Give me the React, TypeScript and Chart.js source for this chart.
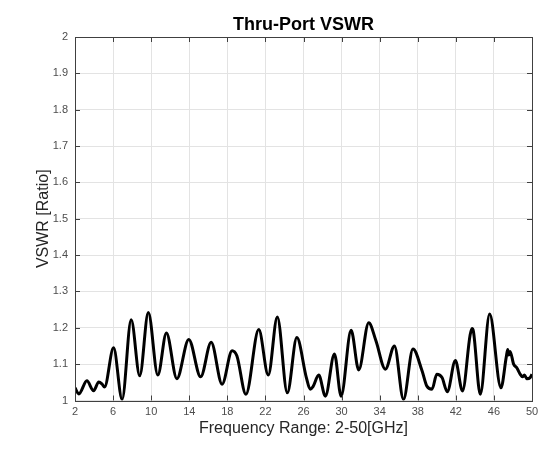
import React, { useEffect, useRef } from "react";
import { Chart, registerables } from "chart.js";

Chart.register(...registerables);

const freqGHz = [
  2.0, 2.4, 3.25, 3.95, 4.5, 4.85, 5.1, 6.05, 6.95, 7.9, 8.8, 9.7, 10.7, 11.6, 12.7, 13.95,
  15.2, 16.3, 17.45, 18.5, 19.0, 19.95, 21.3, 22.3, 23.25, 24.3, 25.3, 26.3, 26.7, 27.0, 27.6,
  28.3, 29.25, 29.95, 31.0, 31.8, 32.85, 33.6, 34.6, 35.55, 36.5, 37.5, 38.45, 38.95, 39.5,
  40.0, 40.55, 41.1, 41.95, 42.7, 43.5, 43.7, 43.85, 44.57, 45.55, 46.74, 47.3, 47.45, 47.55,
  47.7, 48.07, 48.4, 48.77, 49.0, 49.2, 49.47, 49.8, 50.0,
];
const vswr = [
  1.035, 1.018, 1.054, 1.027, 1.051, 1.045, 1.037, 1.145, 1.003, 1.222, 1.068, 1.242, 1.07, 1.186,
  1.06, 1.168, 1.065, 1.16, 1.045, 1.137, 1.123, 1.017, 1.195, 1.07, 1.23, 1.021, 1.173, 1.063,
  1.031, 1.038, 1.07, 1.012, 1.128, 1.012, 1.193, 1.084, 1.214, 1.165, 1.086, 1.15, 1.003, 1.142,
  1.082, 1.04, 1.031, 1.072, 1.063, 1.024, 1.11, 1.026, 1.18, 1.198, 1.19, 1.017, 1.238, 1.035,
  1.12, 1.14, 1.125, 1.135, 1.1, 1.09, 1.072, 1.065, 1.07, 1.06, 1.063, 1.072,
];
const titleText = "Thru-Port VSWR";
const xLabel = "Frequency Range: 2-50[GHz]";
const yLabel = "VSWR [Ratio]";

const FONT = "'Liberation Sans', Arial, Helvetica, sans-serif";

const boxPlugin = {
  id: "matlabBox",
  afterDatasetsDraw(chart: any) {
    const { ctx, chartArea } = chart;
    const { left, right, top, bottom } = chartArea;
    ctx.save();
    ctx.strokeStyle = "#404040";
    ctx.lineWidth = 1;
    const xs = chart.scales.x;
    const ys = chart.scales.y;
    const tl = 5;
    ctx.beginPath();
    xs.ticks.forEach((t: any) => {
      const px = Math.round(xs.getPixelForValue(t.value)) + 0.5;
      ctx.moveTo(px, bottom);
      ctx.lineTo(px, bottom - tl);
      ctx.moveTo(px, top);
      ctx.lineTo(px, top + tl);
    });
    ys.ticks.forEach((t: any) => {
      const py = Math.round(ys.getPixelForValue(t.value)) + 0.5;
      ctx.moveTo(left, py);
      ctx.lineTo(left + tl, py);
      ctx.moveTo(right, py);
      ctx.lineTo(right - tl, py);
    });
    ctx.stroke();
    ctx.strokeRect(Math.round(left) + 0.5, Math.round(top) + 0.5, Math.round(right - left), Math.round(bottom - top));
    ctx.restore();
  },
};

export default function App() {
  const ref = useRef<HTMLCanvasElement>(null);
  useEffect(() => {
    document.body.style.margin = "0";
    const canvas = ref.current!;
    const chart = new Chart(canvas, {
      type: "line",
      data: {
        datasets: [
          {
            data: freqGHz.map((f, i) => ({ x: f, y: vswr[i] })),
            borderColor: "#000000",
            borderWidth: 3,
            pointRadius: 0,
            cubicInterpolationMode: "monotone",
            fill: false,
          },
        ],
      },
      options: {
        animation: false,
        responsive: false,
        maintainAspectRatio: false,
        layout: { padding: { top: 0, left: 0, right: 8, bottom: 0 } },
        plugins: {
          legend: { display: false },
          tooltip: { enabled: false },
          title: { display: false },
        },
        scales: {
          x: {
            type: "linear",
            min: 2,
            max: 50,
            afterFit: (s: any) => {
              s.height = 49.5;
              s.paddingLeft = 0;
              s.paddingRight = 0;
            },
            ticks: {
              stepSize: 4,
              color: "#4d4d4d",
              font: { family: FONT, size: 11 },
              padding: 5,
              maxRotation: 0,
            },
            grid: { color: "#e3e3e3", lineWidth: 1, drawTicks: false },
            border: { display: false },
            title: {
              display: true,
              text: xLabel,
              color: "#262626",
              font: { family: FONT, size: 16 },
              padding: { top: 0, bottom: 12 },
            },
          },
          xTop: {
            type: "linear",
            position: "top",
            min: 2,
            max: 50,
            afterFit: (s: any) => {
              s.height = 37;
              s.paddingLeft = 0;
              s.paddingRight = 0;
            },
            ticks: { display: false },
            grid: { display: false, drawTicks: false },
            border: { display: false },
            title: {
              display: true,
              text: titleText,
              color: "#000000",
              font: { family: FONT, size: 18, weight: "bold" },
              padding: { top: 14.2, bottom: 0 },
            },
          },
          y: {
            min: 1,
            max: 2,
            afterFit: (s: any) => {
              s.width = 75;
            },
            ticks: {
              stepSize: 0.1,
              color: "#4d4d4d",
              font: { family: FONT, size: 11 },
              padding: 7,
              callback: (v: any) => parseFloat(Number(v).toFixed(2)).toString(),
            },
            grid: { color: "#e3e3e3", lineWidth: 1, drawTicks: false },
            border: { display: false },
            title: {
              display: true,
              text: yLabel,
              color: "#262626",
              font: { family: FONT, size: 16 },
              padding: { top: 34, bottom: 0 },
            },
          },
        },
      },
      plugins: [boxPlugin],
    });
    return () => chart.destroy();
  }, []);
  return (
    <div style={{ width: 540, height: 450, background: "#ffffff" }}>
      <canvas ref={ref} width={540} height={450} style={{ display: "block" }} />
    </div>
  );
}
